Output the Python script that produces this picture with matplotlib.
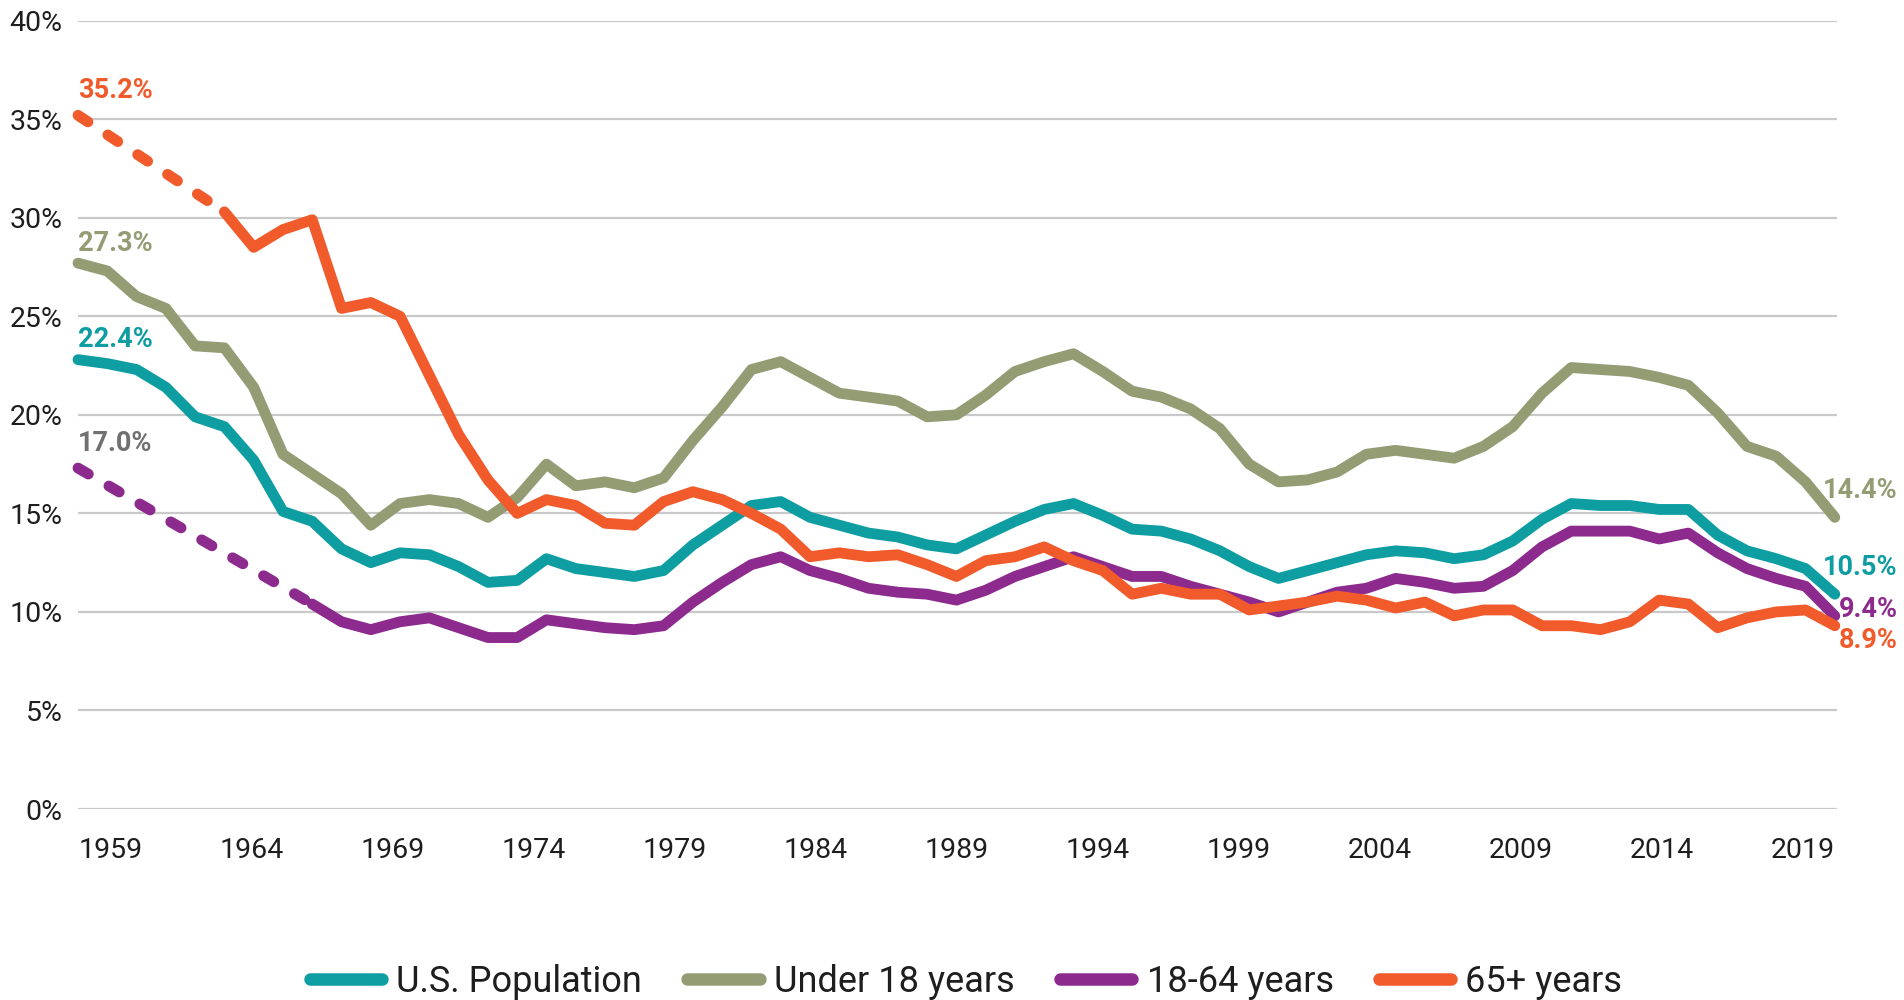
import numpy as np
import matplotlib
matplotlib.use("Agg")
import matplotlib.pyplot as plt
from matplotlib.lines import Line2D

plt.rcParams['font.family'] = ['Roboto', 'DejaVu Sans']

years = list(range(1959, 2020))
nan = np.nan

us_population = [22.8, 22.6, 22.3, 21.4, 19.9, 19.4, 17.7, 15.1, 14.6, 13.2,
                 12.5, 13.0, 12.9, 12.3, 11.5, 11.6, 12.7, 12.2, 12.0, 11.8,
                 12.1, 13.4, 14.4, 15.4, 15.6, 14.8, 14.4, 14.0, 13.8, 13.4,
                 13.2, 13.9, 14.6, 15.2, 15.5, 14.9, 14.2, 14.1, 13.7, 13.1,
                 12.3, 11.7, 12.1, 12.5, 12.9, 13.1, 13.0, 12.7, 12.9, 13.6,
                 14.7, 15.5, 15.4, 15.4, 15.2, 15.2, 13.9, 13.1, 12.7, 12.2,
                 10.9]
under_18 = [27.7, 27.3, 26.0, 25.4, 23.5, 23.4, 21.4, 18.0, 17.0, 16.0,
            14.4, 15.5, 15.7, 15.5, 14.8, 15.8, 17.5, 16.4, 16.6, 16.3,
            16.8, 18.7, 20.4, 22.3, 22.7, 21.9, 21.1, 20.9, 20.7, 19.9,
            20.0, 21.0, 22.2, 22.7, 23.1, 22.2, 21.2, 20.9, 20.3, 19.3,
            17.5, 16.6, 16.7, 17.1, 18.0, 18.2, 18.0, 17.8, 18.4, 19.4,
            21.1, 22.4, 22.3, 22.2, 21.9, 21.5, 20.1, 18.4, 17.9, 16.6,
            14.8]
age_18_64 = [17.3, nan, nan, nan, nan, nan, nan, nan, 10.4, 9.5,
             9.1, 9.5, 9.7, 9.2, 8.7, 8.7, 9.6, 9.4, 9.2, 9.1,
             9.3, 10.5, 11.5, 12.4, 12.8, 12.1, 11.7, 11.2, 11.0, 10.9,
             10.6, 11.1, 11.8, 12.3, 12.8, 12.3, 11.8, 11.8, 11.3, 10.9,
             10.5, 10.0, 10.5, 11.0, 11.2, 11.7, 11.5, 11.2, 11.3, 12.1,
             13.3, 14.1, 14.1, 14.1, 13.7, 14.0, 13.0, 12.2, 11.7, 11.3,
             9.8]
age_65_plus = [35.2, nan, nan, nan, nan, 30.3, 28.5, 29.4, 29.9, 25.4,
               25.7, 25.0, 22.0, 19.0, 16.7, 15.0, 15.7, 15.4, 14.5, 14.4,
               15.6, 16.1, 15.7, 15.0, 14.2, 12.8, 13.0, 12.8, 12.9, 12.4,
               11.8, 12.6, 12.8, 13.3, 12.6, 12.1, 10.9, 11.2, 10.9, 10.9,
               10.1, 10.3, 10.5, 10.8, 10.6, 10.2, 10.5, 9.8, 10.1, 10.1,
               9.3, 9.3, 9.1, 9.5, 10.6, 10.4, 9.2, 9.7, 10.0, 10.1,
               9.3]

series_names = ["U.S. Population", "Under 18 years", "18-64 years", "65+ years"]
series_values = [us_population, under_18, age_18_64, age_65_plus]
colors = ["#0E9DA1", "#949C74", "#8D2A8E", "#F15A2B"]

start_labels = ["22.4%", "27.3%", "17.0%", "35.2%"]
start_label_colors = ["#0E9DA1", "#949C74", "#707070", "#F15A2B"]
end_labels = ["10.5%", "14.4%", "9.4%", "8.9%"]

yticks = [0, 5, 10, 15, 20, 25, 30, 35, 40]
xtick_labels = [str(y) for y in range(1959, 2020, 5)]

W, H = 1904, 1000
fig = plt.figure(figsize=(W / 100, H / 100), dpi=100)
left_px, right_px, top_px, bottom_px = 78, 1837, 20.7, 809
ax = fig.add_axes([left_px / W, 1 - bottom_px / H, (right_px - left_px) / W, (bottom_px - top_px) / H])
px_per_year = 29.28
ax.set_xlim(1959, 1959 + (right_px - left_px) / px_per_year)
ax.set_ylim(0, 40)

for s in ax.spines.values():
    s.set_visible(False)
ax.set_yticks(yticks)
ax.set_yticklabels([f"{v}%" for v in yticks])
ax.yaxis.grid(True, color="#C9C9C9", linewidth=1.6)
ax.set_axisbelow(True)
ax.set_xticks(np.linspace(1960.13, 2017.90, len(xtick_labels)))
ax.set_xticklabels(xtick_labels)
ax.tick_params(axis="y", length=0, pad=11, labelsize=20.5, labelcolor="#1E1E1E")
ax.tick_params(axis="x", length=0, pad=20, labelsize=20.5, labelcolor="#1E1E1E")
for lbl in ax.get_yticklabels():
    lbl.set_verticalalignment("center_baseline")

yrs = np.array(years)
lw = 7.8
for vals, c in zip(series_values, colors):
    v = np.array(vals, dtype=float)
    ax.plot(yrs, v, color=c, lw=lw, solid_capstyle="round", solid_joinstyle="round", clip_on=False)
    # dashed connector across missing years
    valid = np.where(~np.isnan(v))[0]
    if len(valid) > 1 and valid[1] - valid[0] > 1:
        i0, i1 = valid[0], valid[1]
        ax.plot(yrs[[i0, i1]], v[[i0, i1]], color=c, lw=lw,
                linestyle=(0, (1.1, 2.2)), dash_capstyle="round", clip_on=False)

# start labels (baseline offsets in pixels)
start_offsets = [12.6, 12, 17, 17]
for vals, txt, c, off in zip(series_values, start_labels, start_label_colors, start_offsets):
    ax.annotate(txt, xy=(years[0], vals[0]), xytext=(0, off), textcoords="offset pixels",
                ha="left", va="baseline", fontsize=19.5, fontweight="bold", color=c)

end_offsets = [19, 19, -1, -22]
for vals, txt, c, off in zip(series_values, end_labels, colors, end_offsets):
    ax.annotate(txt, xy=(years[-1], vals[-1]), xytext=(63, off), textcoords="offset pixels",
                ha="right", va="baseline", fontsize=19.5, fontweight="bold", color=c,
                annotation_clip=False)

handles = [Line2D([0], [0], color=c, lw=9, solid_capstyle="round") for c in colors]
fig.legend(handles, series_names, loc="center", bbox_to_anchor=(966 / W, 1 - 982 / H),
           ncol=4, frameon=False, fontsize=26, handlelength=2.0, handletextpad=0.4,
           columnspacing=1.25, labelcolor="#1E1E1E")

fig.savefig("out.png", dpi=100)
